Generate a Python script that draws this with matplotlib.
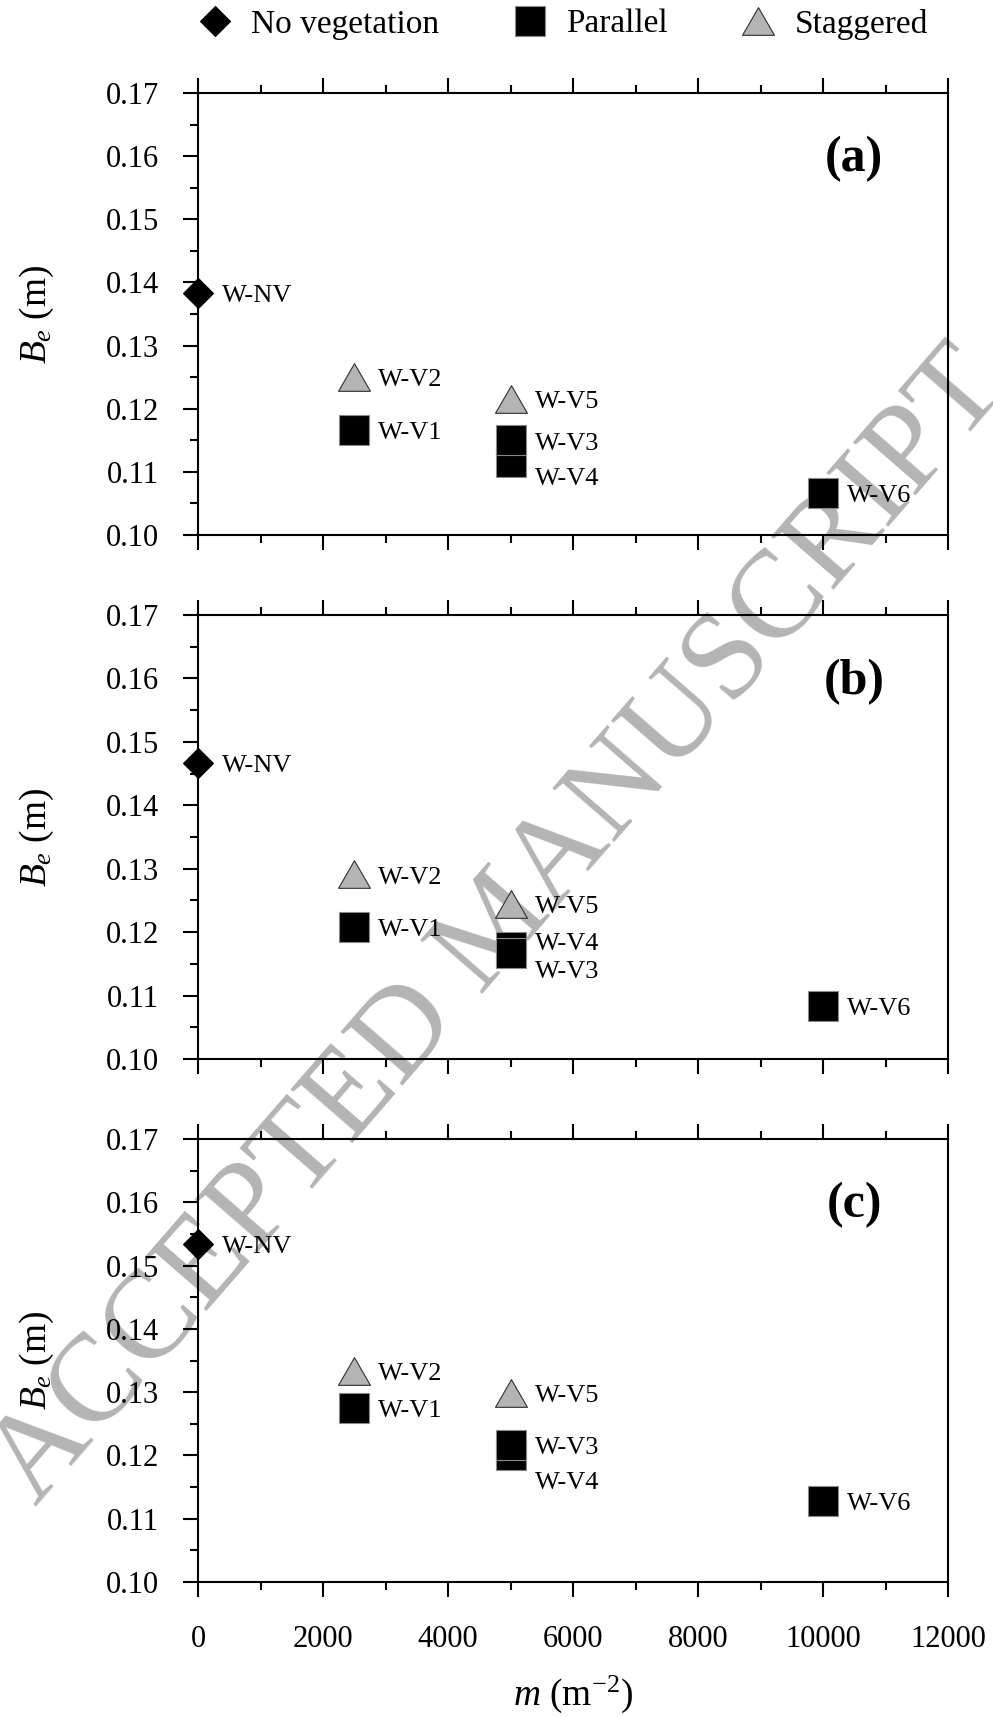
import matplotlib
matplotlib.use('Agg')
import matplotlib.pyplot as plt
from matplotlib.path import Path
from matplotlib.lines import Line2D
from matplotlib.ticker import MultipleLocator, FormatStrFormatter

plt.rcParams['font.family'] = ['Liberation Serif', 'DejaVu Serif']
plt.rcParams['mathtext.fontset'] = 'custom'
plt.rcParams['mathtext.rm'] = 'Liberation Serif'
plt.rcParams['mathtext.it'] = 'Liberation Serif:italic'
plt.rcParams['mathtext.bf'] = 'Liberation Serif:bold'

# ---------------- data ----------------
panel_labels = ['(a)', '(b)', '(c)']

nv_cases = ['W-NV']
nv_m = [0]
nv_be_a = [0.1384]
nv_be_b = [0.1467]
nv_be_c = [0.1534]

par_cases = ['W-V1', 'W-V4', 'W-V3', 'W-V6']
par_m = [2500, 5000, 5000, 10000]
par_be_a = [0.1167, 0.1116, 0.1150, 0.1066]
par_be_b = [0.1208, 0.1176, 0.1167, 0.1084]
par_be_c = [0.1275, 0.1200, 0.1217, 0.1128]

stag_cases = ['W-V2', 'W-V5']
stag_m = [2500, 5000]
stag_be_a = [0.1250, 0.1216]
stag_be_b = [0.1291, 0.1245]
stag_be_c = [0.1333, 0.1299]

x_ticks = [0, 2000, 4000, 6000, 8000, 10000, 12000]
y_ticks = [0.10, 0.11, 0.12, 0.13, 0.14, 0.15, 0.16, 0.17]
legend_labels = ['No vegetation', 'Parallel', 'Staggered']

# label placement (pixel offsets: down) per panel
label_dy = [
    {'W-V4': 15, 'W-V3': 1.5},
    {'W-V4': -6, 'W-V3': 16},
    {'W-V4': 25, 'W-V3': 1},
]

# ---------------- style ----------------
W, H = 993, 1717
fig = plt.figure(figsize=(W / 100, H / 100), dpi=100)

tri = Path([(-1, -0.866), (1, -0.866), (0, 0.866), (-1, -0.866)],
           [Path.MOVETO, Path.LINETO, Path.LINETO, Path.CLOSEPOLY])
gray_fill = '#b4b4b4'

sty_nv = dict(marker='D', ms=15, mfc='black', mec='black', mew=0.8, ls='none')
sty_par = dict(marker='s', ms=22, mfc='black', mec='#8a8a8a', mew=0.8, ls='none')
sty_stag = dict(marker=tri, ms=23, mfc=gray_fill, mec='#303030', mew=0.8, ls='none')

tick_fs = 22
ann_fs = 19
lw = 1.5

panels = [
    (93, 535, nv_be_a, par_be_a, stag_be_a),
    (615, 1059, nv_be_b, par_be_b, stag_be_b),
    (1139, 1582, nv_be_c, par_be_c, stag_be_c),
]

left_px, right_px = 198, 948
for i, (top, bot, nvv, parv, stv) in enumerate(panels):
    ax = fig.add_axes([left_px / W, 1 - bot / H, (right_px - left_px) / W, (bot - top) / H])
    ax.set_facecolor('none')
    ax.plot(nv_m, nvv, **sty_nv, zorder=5, clip_on=False)
    ax.plot(stag_m, stv, **sty_stag, zorder=5, clip_on=False)
    ax.plot(par_m, parv, **sty_par, zorder=6, clip_on=False)

    ax.set_xlim(0, 12000)
    ax.set_ylim(0.10, 0.17)
    ax.set_xticks(x_ticks)
    ax.set_yticks(y_ticks)
    ax.xaxis.set_minor_locator(MultipleLocator(1000))
    ax.yaxis.set_minor_locator(MultipleLocator(0.005))
    ax.yaxis.set_major_formatter(FormatStrFormatter('%.2f'))
    ax.tick_params(axis='both', which='both', direction='out', width=lw, colors='black')
    ax.tick_params(axis='x', which='both', top=True, bottom=True)
    ax.tick_params(axis='y', which='both', left=True, right=False)
    ax.tick_params(which='major', length=11)
    ax.tick_params(which='minor', length=6)
    ax.tick_params(axis='y', labelsize=tick_fs, pad=17)
    ax.tick_params(axis='x', labelsize=tick_fs, pad=20)
    for s in ax.spines.values():
        s.set_linewidth(lw)
    if i < 2:
        ax.tick_params(axis='x', labelbottom=False)
    else:
        ax.set_xlabel(r'$m$ (m$^{-2}$)', fontsize=27, labelpad=14)
    ax.set_ylabel(r'$B_e$ (m)', fontsize=27)
    ax.yaxis.set_label_coords(-(left_px - 56) / (right_px - left_px), 0.5)

    ax.text(0.875, 0.85, panel_labels[i], transform=ax.transAxes, ha='center',
            va='center', fontsize=36, fontweight='bold')

    cap = 0.655 * ann_fs
    dyd = label_dy[i]
    for names, ms, vals in [(nv_cases, nv_m, nvv), (stag_cases, stag_m, stv),
                            (par_cases, par_m, parv)]:
        for nm, mx, v in zip(names, ms, vals):
            dy = dyd.get(nm, 0.5)
            ax.annotate(nm, (mx, v), xytext=(24 * 0.72, -dy * 0.72 - cap / 2),
                        textcoords='offset points', ha='left', va='baseline',
                        fontsize=ann_fs, zorder=7)

# legend
handles = [Line2D([], [], **sty_nv), Line2D([], [], **sty_par), Line2D([], [], **sty_stag)]
fig.legend(handles, legend_labels, loc='center', bbox_to_anchor=(563 / W, 1 - 24 / H),
           ncol=3, frameon=False, fontsize=24, handlelength=1.0, handletextpad=0.6,
           columnspacing=2.2, borderaxespad=0, borderpad=0)

# watermark
fig.text(500 / W, 1 - 928 / H, 'ACCEPTED MANUSCRIPT', rotation=49, rotation_mode='anchor',
         ha='center', va='center', fontsize=90, color='#b4b4b4', zorder=-1)

fig.savefig('out.png', dpi=100)
